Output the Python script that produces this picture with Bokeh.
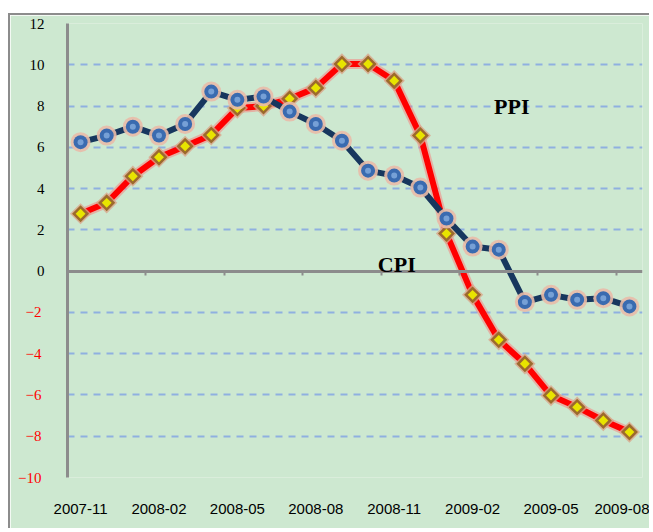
import numpy as np
from bokeh.plotting import figure
from bokeh.models import Range1d, LinearAxis, FixedTicker, Label, Grid
from bokeh.embed import file_html
from bokeh.resources import INLINE

# ---- data ----
months = ["2007-11", "2007-12", "2008-01", "2008-02", "2008-03", "2008-04",
          "2008-05", "2008-06", "2008-07", "2008-08", "2008-09", "2008-10",
          "2008-11", "2008-12", "2009-01", "2009-02", "2009-03", "2009-04",
          "2009-05", "2009-06", "2009-07", "2009-08"]
cpi = [6.25, 6.57, 7.0, 6.57, 7.13, 8.7, 8.3, 8.46, 7.73, 7.13, 6.32, 4.87,
       4.63, 4.05, 2.55, 1.19, 1.04, -1.5, -1.15, -1.39, -1.31, -1.71]
ppi = [2.78, 3.31, 4.6, 5.52, 6.05, 6.6, 7.9, 8.0, 8.35, 8.88, 10.04, 10.04,
       9.23, 6.57, 1.82, -1.15, -3.33, -4.49, -6.03, -6.59, -7.24, -7.8]
y_ticks = [-10, -8, -6, -4, -2, 0, 2, 4, 6, 8, 10, 12]
grid_ticks = [-10, -8, -6, -4, -2, 2, 4, 6, 8, 10, 12]
label_step = 3
series_labels = ["PPI", "CPI"]
series_label_x = [16.5, 12.1]
series_label_y = [8.0, 0.3]

n = len(months)
x = list(range(n))
BG = "#cde8d0"
GRAY = "#8c8c8c"

p = figure(width=641, height=515,
           x_range=Range1d(-0.5, n - 0.5), y_range=Range1d(-10, 12),
           output_backend="svg", toolbar_location=None,
           x_axis_type=None, y_axis_type=None,
           min_border_left=57, min_border_right=9,
           min_border_top=8, min_border_bottom=53)
p.styles = {"margin-left": "8px", "margin-top": "13px",
            "border-left": "2px solid #8c8c8c", "border-top": "2px solid #8c8c8c"}
p.background_fill_color = BG
p.border_fill_color = BG
p.outline_line_color = None

# grid
grid = Grid(dimension=1, ticker=FixedTicker(ticks=grid_ticks),
            grid_line_color="#8fb0e0", grid_line_width=2,
            grid_line_dash="7 6")
p.add_layout(grid)

# inner y axis: black labels for values >= 0, carries the axis line
yax = LinearAxis(ticker=FixedTicker(ticks=y_ticks),
                 major_label_overrides={t: "" for t in y_ticks if t < 0})
yax.axis_line_color = GRAY
yax.axis_line_width = 3
yax.major_tick_line_color = None
yax.major_tick_in = 0
yax.major_tick_out = 0
yax.minor_tick_line_color = None
yax.major_label_standoff = 23
yax.major_label_text_font = "Liberation Serif"
yax.major_label_text_font_size = "15px"
yax.major_label_text_color = "black"
p.add_layout(yax, "left")

# outer y axis: red labels for negative values, pulled back onto the same column
yax2 = LinearAxis(ticker=FixedTicker(ticks=y_ticks),
                  major_label_overrides={t: "" for t in y_ticks if t >= 0})
yax2.axis_line_color = None
yax2.major_tick_line_color = None
yax2.major_tick_in = 0
yax2.major_tick_out = 0
yax2.minor_tick_line_color = None
yax2.major_label_standoff = -15
yax2.major_label_text_font = "Liberation Serif"
yax2.major_label_text_font_size = "15px"
yax2.major_label_text_color = "#ff0000"
p.add_layout(yax2, "left")

# zero axis
zax = LinearAxis(ticker=FixedTicker(ticks=[i - 0.5 for i in range(label_step, n, label_step)]),
                 fixed_location=0)
zax.axis_line_color = GRAY
zax.axis_line_width = 3
zax.major_tick_line_color = GRAY
zax.major_tick_line_width = 2
zax.major_tick_in = 0
zax.major_tick_out = 4
zax.minor_tick_line_color = None
zax.major_label_text_color = None
p.add_layout(zax, "below")

# category labels axis
xax = LinearAxis(ticker=FixedTicker(ticks=list(range(0, n, label_step))),
                 major_label_overrides={i: months[i] for i in range(0, n, label_step)})
xax.axis_line_color = None
xax.major_tick_line_color = None
xax.minor_tick_line_color = None
xax.major_label_standoff = 20
xax.major_label_text_font = "Liberation Sans"
xax.major_label_text_font_size = "15px"
xax.major_label_text_color = "black"
p.add_layout(xax, "below")

# PPI (red)
p.line(x, ppi, line_color="#ff7070", line_width=10, line_alpha=0.45)
p.line(x, ppi, line_color="#ff0000", line_width=6)
p.scatter(x, ppi, marker="square", angle=np.pi / 4, size=15,
          fill_color="#d9a58a", line_color=None, fill_alpha=0.8)
p.scatter(x, ppi, marker="square", angle=np.pi / 4, size=12,
          fill_color="#9c6a2c", line_color=None)
p.scatter(x, ppi, marker="square", angle=np.pi / 4, size=7,
          fill_color="#e8e400", line_color=None)

# CPI (navy)
p.line(x, cpi, line_color="#17375e", line_width=6)
p.scatter(x, cpi, size=20, fill_color="#e9bba8", line_color=None, fill_alpha=0.9)
p.scatter(x, cpi, size=14, fill_color="#3a6bb0", line_color=None)
p.scatter(x, cpi, size=6, fill_color="#86aee0", line_color=None, fill_alpha=0.8)

for t, lx, ly in zip(series_labels, series_label_x, series_label_y):
    p.add_layout(Label(x=lx, y=ly, text=t, text_font="Liberation Serif",
                       text_font_style="bold", text_font_size="22px",
                       text_align="center", text_baseline="middle",
                       text_color="black"))

open("out.html", "w").write(file_html(p, INLINE))
